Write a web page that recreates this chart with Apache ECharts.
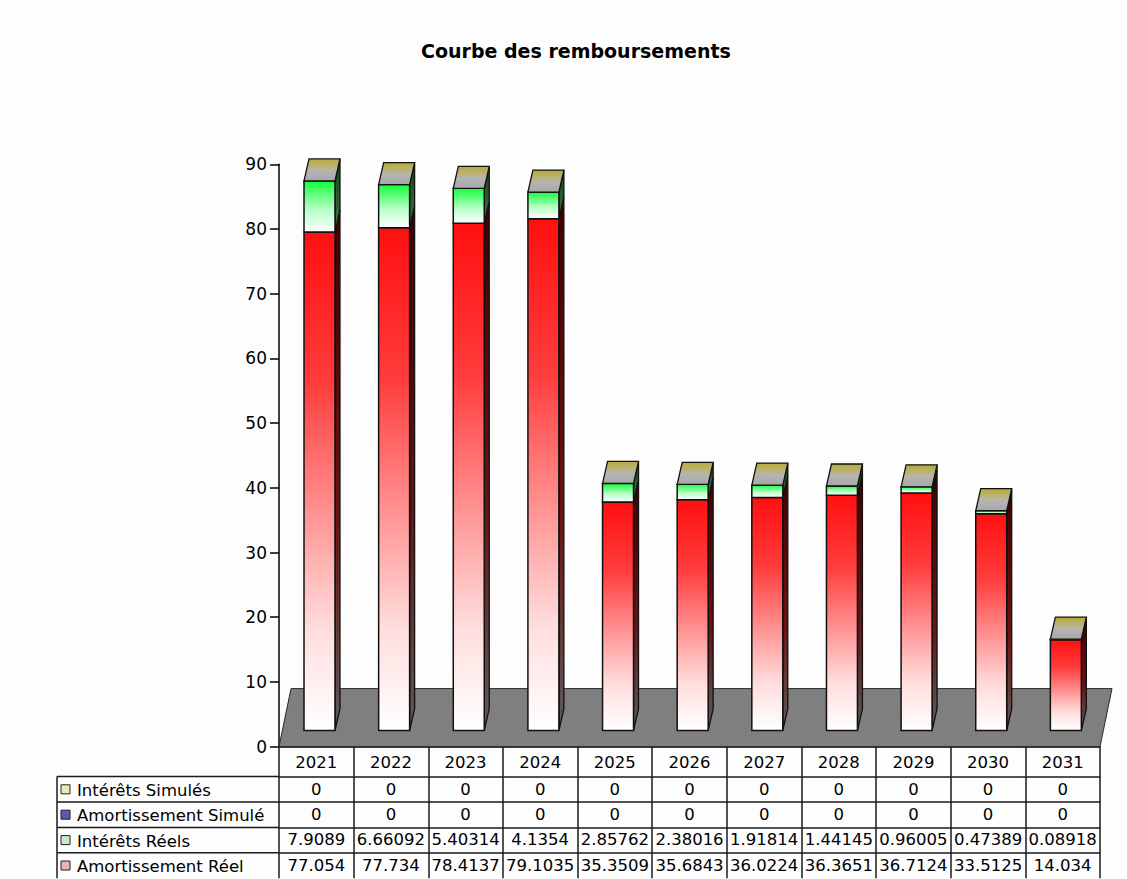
<!DOCTYPE html>
<html>
<head>
<meta charset="utf-8">
<script src="https://cdn.jsdelivr.net/npm/echarts@6/dist/echarts.min.js"></script>
<style>
html,body{margin:0;padding:0;background:#ffffff;}
#c{width:1127px;height:879px;}
</style>
</head>
<body>
<div id="c"></div>
<script>
// ---------- DATA ----------
const years = ['2021','2022','2023','2024','2025','2026','2027','2028','2029','2030','2031'];
const interetsSimules = [0,0,0,0,0,0,0,0,0,0,0];
const amortissementSimule = [0,0,0,0,0,0,0,0,0,0,0];
const interetsReels = [7.9089,6.66092,5.40314,4.1354,2.85762,2.38016,1.91814,1.44145,0.96005,0.47389,0.08918];
const amortissementReel = [77.054,77.734,78.4137,79.1035,35.3509,35.6843,36.0224,36.3651,36.7124,33.5125,14.034];
const seriesNames = ['Amortissement Réel','Intérêts Réels','Amortissement Simulé','Intérêts Simulés'];
const tableRowNames = ['Intérêts Simulés','Amortissement Simulé','Intérêts Réels','Amortissement Réel'];
const yMin = 0, yMax = 90, yStep = 10;
const titleText = 'Courbe des remboursements';

// ---------- LAYOUT / STYLE ----------
const W = 1127, H = 879;
const GRID = {left: 279, right: 27, top: 164.3, bottom: 132.4};
const FONT = 'DejaVu Sans';
const HEADER_H = 30, ROW_H = 25.4;
const EDGE = '#111111';
const LG = echarts.graphic.LinearGradient;

const styles = {
  'Amortissement Réel': {
    front: new LG(0,0,0,1,[{offset:0,color:'#ff1010'},{offset:0.3,color:'#ff3c3c'},{offset:0.55,color:'#ff8e8e'},{offset:0.8,color:'#ffdede'},{offset:1,color:'#ffffff'}]),
    side: new LG(0,0,0,1,[{offset:0,color:'#420000'},{offset:0.6,color:'#6a1414'},{offset:1,color:'#5c5c5c'}]),
    key: '#e6b4b4'
  },
  'Intérêts Réels': {
    front: new LG(0,0,0,1,[{offset:0,color:'#14ff3a'},{offset:0.55,color:'#b4ffc4'},{offset:1,color:'#ffffff'}]),
    side: new LG(0,0,0,1,[{offset:0,color:'#0a4a0e'},{offset:1,color:'#4a6a4c'}]),
    key: '#c8ecc8'
  },
  'Amortissement Simulé': {
    front: '#5050c0', side: '#202060', key: '#5a5ab4'
  },
  'Intérêts Simulés': {
    front: '#d8d870', side: '#6a6a20', key: '#e8ecb0'
  }
};
const topFace = new LG(0,0,0,1,[{offset:0,color:'#b6ac36'},{offset:0.42,color:'#bbb48a'},{offset:0.55,color:'#b4b4b4'},{offset:1,color:'#a8a8a8'}]);

const valuesByName = {
  'Amortissement Réel': amortissementReel,
  'Intérêts Réels': interetsReels,
  'Amortissement Simulé': amortissementSimule,
  'Intérêts Simulés': interetsSimules
};

// stacked data [index, base, top]
const base = years.map(() => 0);
const stackedData = {};
seriesNames.forEach(name => {
  const vals = valuesByName[name];
  stackedData[name] = years.map((y, i) => {
    const b = base[i];
    base[i] = b + vals[i];
    return [i, b, base[i]];
  });
});

// 3D geometry (pixels)
const FRONT_LIFT = 16, DEPTH_DX = 5, DEPTH_DY = 22;
const FLOOR_DX = 12, FLOOR_DY = 58;

function makeBoxRenderer(name, isTop) {
  const st = styles[name];
  return function (params, api) {
    const i = api.value(0), b = api.value(1), t = api.value(2);
    const pB = api.coord([i, b]);
    const pT = api.coord([i, t]);
    const band = api.size([1, 0])[0];
    const x0 = pB[0] - band / 2 + band * 0.335;
    const w = band * 0.415;
    const yb = pB[1] - FRONT_LIFT;
    const yt = pT[1] - FRONT_LIFT;
    const children = [];
    if (yb - yt > 0.3) {
      children.push({
        type: 'polygon',
        shape: {points: [[x0 + w, yb], [x0 + w + DEPTH_DX, yb - DEPTH_DY], [x0 + w + DEPTH_DX, yt - DEPTH_DY], [x0 + w, yt]]},
        style: {fill: st.side, stroke: EDGE, lineWidth: 1.3}
      });
      children.push({
        type: 'rect',
        shape: {x: x0, y: yt, width: w, height: yb - yt},
        style: {fill: st.front, stroke: EDGE, lineWidth: 1.5}
      });
    }
    if (isTop) {
      children.push({
        type: 'polygon',
        shape: {points: [[x0, yt], [x0 + w, yt], [x0 + w + DEPTH_DX, yt - DEPTH_DY], [x0 + DEPTH_DX, yt - DEPTH_DY]]},
        style: {fill: topFace, stroke: EDGE, lineWidth: 1.3}
      });
    }
    return {type: 'group', children: children};
  };
}

function floorRenderer(params, api) {
  const band = api.size([1, 0])[0];
  const p = api.coord([api.value(0), api.value(1)]);
  const left = p[0] - band / 2;
  const right = left + band * years.length;
  const y = p[1];
  return {
    type: 'polygon',
    shape: {points: [[left, y], [right, y], [right + FLOOR_DX, y - FLOOR_DY], [left + FLOOR_DX, y - FLOOR_DY]]},
    style: {fill: '#7f7f7f', stroke: '#2a2a2a', lineWidth: 1}
  };
}

const tableRowValues = tableRowNames.map(n => valuesByName[n]);

const axisTextStyle = {fontFamily: FONT, fontSize: 17, color: '#000'};
const tableTextStyle = {fontFamily: FONT, fontSize: 16.5, color: '#000'};
const tableLine = {color: '#1a1a1a', width: 1.5};

const xAxes = [{
  type: 'category', data: years, boundaryGap: true, gridIndex: 0, position: 'bottom',
  axisLine: {show: true, lineStyle: {color: '#000', width: 1.5}},
  axisTick: {show: true, interval: 0, length: HEADER_H, lineStyle: tableLine},
  axisLabel: Object.assign({interval: 0, margin: 7}, tableTextStyle),
  splitLine: {show: false}
}];
tableRowValues.forEach((vals, k) => {
  xAxes.push({
    type: 'category', data: years, boundaryGap: true, gridIndex: 0, position: 'bottom',
    offset: HEADER_H + ROW_H * k,
    axisLine: {show: true, lineStyle: tableLine},
    axisTick: {show: true, interval: 0, length: ROW_H, lineStyle: tableLine},
    axisLabel: Object.assign({interval: 0, margin: 4, formatter: (v, idx) => String(vals[idx])}, tableTextStyle),
    splitLine: {show: false}
  });
});

// left label column of the table
const axisBottomY = H - GRID.bottom;
const tableTop = axisBottomY + HEADER_H;
const tableLeft = 57;
const graphics = [];
graphics.push({type: 'line', shape: {x1: tableLeft, y1: tableTop, x2: tableLeft, y2: tableTop + ROW_H * tableRowNames.length}, style: {stroke: '#1a1a1a', lineWidth: 1.5}, z: 10});
tableRowNames.forEach((n, k) => {
  const y = tableTop + ROW_H * k;
  graphics.push({type: 'line', shape: {x1: tableLeft, y1: y, x2: GRID.left, y2: y}, style: {stroke: '#1a1a1a', lineWidth: 1.5}, z: 10});
  graphics.push({type: 'rect', shape: {x: tableLeft + 4, y: y + ROW_H / 2 - 4.5, width: 9, height: 9}, style: {fill: styles[n].key, stroke: '#222', lineWidth: 1}, z: 10});
  graphics.push({type: 'text', x: tableLeft + 20, y: y + ROW_H / 2 + 1, style: {text: n, fontFamily: FONT, fontSize: 16.5, fill: '#000', verticalAlign: 'middle', align: 'left'}, z: 10});
});

const series = [{
  type: 'custom', name: 'floor', xAxisIndex: 0, yAxisIndex: 0,
  data: [[0, yMin]], encode: {x: 0, y: 1},
  renderItem: floorRenderer, z: 1, silent: true
}];
seriesNames.forEach((name, si) => {
  series.push({
    type: 'custom', name: name, xAxisIndex: 0, yAxisIndex: 0,
    data: stackedData[name], encode: {x: 0, y: [1, 2]},
    renderItem: makeBoxRenderer(name, si === seriesNames.length - 1),
    z: 2, clip: false
  });
});

const chart = echarts.init(document.getElementById('c'), null, {renderer: 'svg'});
chart.setOption({
  backgroundColor: '#fdfdfd',
  animation: false,
  title: {
    text: titleText, left: 421, top: 41, padding: 0,
    textStyle: {fontFamily: FONT, fontWeight: 'bold', fontSize: 19, color: '#000'}
  },
  grid: {left: GRID.left, right: GRID.right, top: GRID.top, bottom: GRID.bottom, containLabel: false, outerBoundsMode: 'none'},
  xAxis: xAxes,
  yAxis: {
    type: 'value', min: yMin, max: yMax, interval: yStep,
    axisLine: {show: true, lineStyle: {color: '#000', width: 1.5}},
    axisTick: {show: true, length: 9, lineStyle: {color: '#000', width: 1.5}},
    axisLabel: Object.assign({margin: 12}, axisTextStyle),
    splitLine: {show: false}
  },
  graphic: graphics,
  series: series
});
</script>
</body>
</html>
